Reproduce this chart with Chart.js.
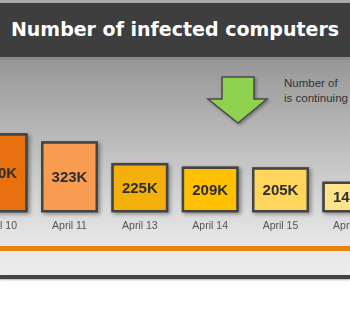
<!DOCTYPE html>
<html>
<head>
<meta charset="utf-8">
<script src="https://cdn.jsdelivr.net/npm/chart.js@4"></script>
<style>
    html, body { margin: 0; padding: 0; }
    body {
        width: 350px; height: 331px; overflow: hidden; position: relative;
        background: #fff; font-family: "Liberation Sans", Arial, sans-serif;
    }
    .title {
        position: absolute; left: 0; top: 0; width: 350px; height: 54px;
        border-top: 3px solid #a9a9a9; border-bottom: 3px solid #8c8c8c;
        background: #3e3e3e; color: #fff;
        font: bold 19px "DejaVu Sans", sans-serif;
        text-align: center; line-height: 52px; white-space: nowrap;
    }
    .panel {
        position: absolute; left: 0; top: 60px; width: 350px; height: 215px;
        background: linear-gradient(#979797 0px, #cdcdcd 120px, #e6e6e6 180px, #ededed 215px);
    }
    .orange { position: absolute; left: 0; top: 246px; width: 350px; height: 5px; background: #e8840e; }
    .bottom {
        position: absolute; left: 0; top: 275px; width: 350px; height: 4px;
        background: #434343; box-shadow: 0 1px 2px rgba(0,0,0,0.3);
    }
    .note {
        position: absolute; left: 284px; top: 76px; font-size: 11.5px; line-height: 15px;
        color: #333; white-space: nowrap;
    }
    .arrow { position: absolute; left: 200px; top: 70px; }
    .wrap { position: absolute; left: -36px; top: 60px; width: 422px; height: 179px; }
</style>
</head>
<body>
<div class="title">Number of infected computers</div>
<div class="panel"></div>
<div class="orange"></div>
<div class="bottom"></div>
<svg class="arrow" width="80" height="64">
    <defs>
        <filter id="sh" x="-20%" y="-20%" width="150%" height="150%">
            <feDropShadow dx="1.5" dy="1.5" stdDeviation="1.5" flood-color="#000" flood-opacity="0.35"/>
        </filter>
    </defs>
    <polygon points="22,7 54,7 54,29 67,29 38,53 8,29 22,29" fill="#8ed24f" stroke="#4a4a4a" stroke-width="1.5" filter="url(#sh)"/>
</svg>
<div class="note">Number of<br>is continuing to decrease</div>
<div class="wrap"><canvas id="chart"></canvas></div>

<script>
    const days = ['April 10', 'April 11', 'April 13', 'April 14', 'April 15', 'April 16'];
    const infected = [360, 323, 225, 209, 205, 140];
    const barColors = ['#e8700e', '#f89c52', '#f3b00c', '#ffc000', '#ffd55c', '#ffe38a'];

    // soft shadow behind each bar
    const barShadow = {
        id: 'barShadow',
        beforeDatasetsDraw(chart) {
            const ctx = chart.ctx;
            ctx.save();
            ctx.shadowColor = 'rgba(0, 0, 0, 0.4)';
            ctx.shadowBlur = 4;
            ctx.shadowOffsetX = 2;
            ctx.shadowOffsetY = 2;
            ctx.fillStyle = '#444';
            chart.getDatasetMeta(0).data.forEach(bar => {
                ctx.fillRect(bar.x - bar.width / 2, bar.y, bar.width, bar.base - bar.y);
            });
            ctx.restore();
        }
    };

    // value labels centred in each bar
    const valueLabels = {
        id: 'valueLabels',
        afterDatasetsDraw(chart) {
            const ctx = chart.ctx;
            ctx.save();
            ctx.font = 'bold 15px "Liberation Sans", Arial, sans-serif';
            ctx.fillStyle = '#2e2e2e';
            ctx.textAlign = 'center';
            ctx.textBaseline = 'middle';
            chart.getDatasetMeta(0).data.forEach((bar, i) => {
                ctx.fillText(infected[i] + 'K', bar.x, (bar.y + bar.base) / 2 + 1);
            });
            ctx.restore();
        }
    };

    new Chart(document.getElementById('chart'), {
        type: 'bar',
        data: {
            labels: days,
            datasets: [{
                data: infected,
                backgroundColor: barColors,
                borderColor: '#444',
                borderWidth: 2.5,
                borderSkipped: false,
                categoryPercentage: 1,
                barPercentage: 0.81
            }]
        },
        options: {
            responsive: true,
            maintainAspectRatio: false,
            animation: false,
            layout: { padding: 0 },
            plugins: {
                legend: { display: false },
                tooltip: { enabled: false }
            },
            scales: {
                x: {
                    grid: { display: false, drawTicks: false },
                    border: { display: false },
                    ticks: {
                        color: '#555',
                        padding: 7,
                        font: { family: "'Liberation Sans', Arial, sans-serif", size: 10.5 }
                    }
                },
                y: {
                    display: false,
                    min: 0,
                    max: 693
                }
            }
        },
        plugins: [barShadow, valueLabels]
    });
</script>
</body>
</html>
